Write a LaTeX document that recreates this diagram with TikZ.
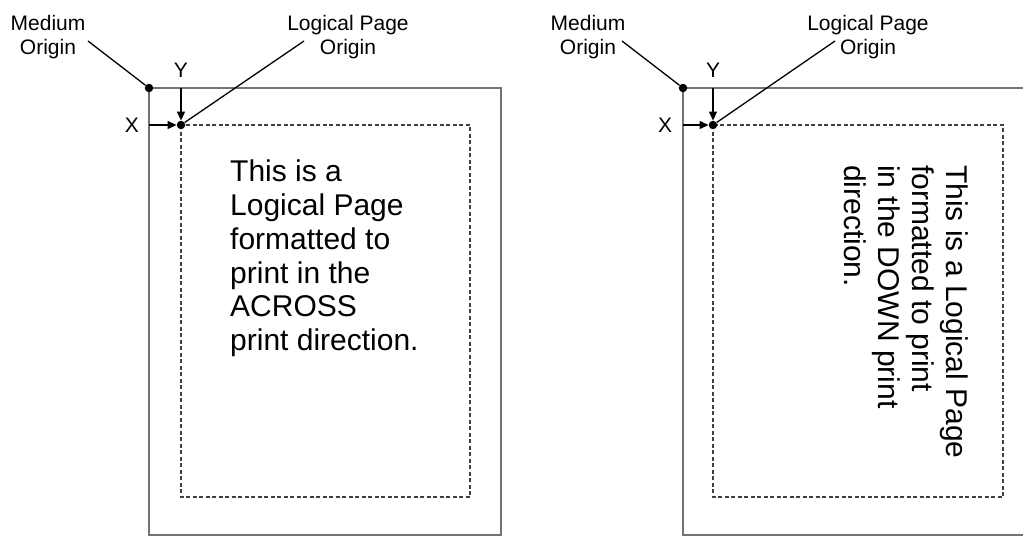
\documentclass[tikz,border=0pt]{standalone}
\usepackage{fontspec}
\setmainfont{Liberation Sans}
\usetikzlibrary{positioning,arrows.meta}

\begin{document}
\begin{tikzpicture}[x=1pt,y=-1pt,%
  medium/.style={draw=black!55,line width=1.6pt},%
  logical/.style={draw=black!75,dash pattern=on 4pt off 2.5pt,line width=1.2pt},%
  lbl/.style={font=\fontsize{21}{24}\selectfont,align=center,inner sep=0pt},%
  body/.style={font=\fontsize{30}{33.7}\selectfont,align=left,inner sep=0pt},%
  leader/.style={line width=1.3pt},%
  arr/.style={-{Triangle[length=9pt,width=8pt]},line width=1.3pt},%
  dot/.style={circle,fill,inner sep=0pt,minimum size=8.5pt}%
  ]
  \clip (0,0) rectangle (1023,536);
%
% ACROSS
  \draw[medium] (149,88) rectangle (501,535);
  \draw[logical] (181,125) rectangle (470,497);
  \node (mo1) [dot] at (149,88) {};
  \node (lo1) [dot] at (181,125) {};
  \node (x1) [lbl] at (132,125) {X};
  \node (y1) [lbl] at (181,70) {Y};
  \draw[arr] (mo1 |- lo1) -- (lo1);
  \draw[arr] (mo1 -| lo1) -- (lo1);
  \node (mlab1) [lbl,anchor=north] at (48,15) {Medium\\Origin};
  \node (llab1) [lbl,anchor=north] at (348,15) {Logical Page\\Origin};
  \coordinate (mlab1-end) at (88,41);
  \coordinate (llab1-end) at (304,41);
  \draw[leader] (mlab1-end) -- (mo1);
  \draw[leader] (llab1-end) -- (lo1);
  \node (txt1) [body,anchor=north west] at (230,160)
    {This is a\\Logical Page\\formatted to\\print in the\\ACROSS\\print direction.};
%
% DOWN
  \draw[medium] (683,88) rectangle (1040,535);
  \draw[logical] (713,125) rectangle (1003,497);
  \node (mo2) [dot] at (683,88) {};
  \node (lo2) [dot] at (713,125) {};
  \node (x2) [lbl] at (665,125) {X};
  \node (y2) [lbl] at (713,70) {Y};
  \draw[arr] (mo2 |- lo2) -- (lo2);
  \draw[arr] (mo2 -| lo2) -- (lo2);
  \node (mlab2) [lbl,anchor=north] at (588,15) {Medium\\Origin};
  \node (llab2) [lbl,anchor=north] at (868,15) {Logical Page\\Origin};
  \coordinate (mlab2-end) at (622,41);
  \coordinate (llab2-end) at (835,41);
  \draw[leader] (mlab2-end) -- (mo2);
  \draw[leader] (llab2-end) -- (lo2);
  \node (txt2) [body,rotate=-90,anchor=north west] at (968,165)
    {This is a Logical Page\\formatted to print\\in the DOWN print\\direction.};
%
\end{tikzpicture}
\end{document}
